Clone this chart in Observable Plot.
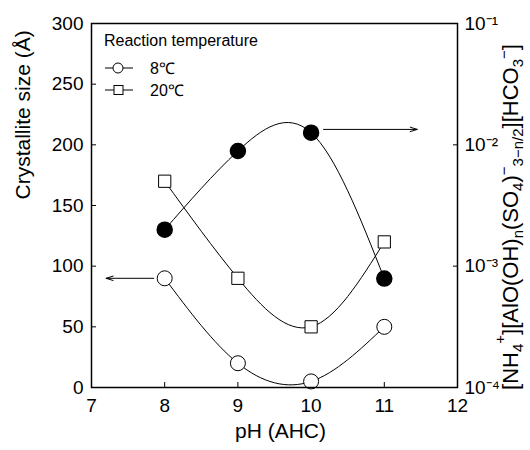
<!DOCTYPE html>
<html>
<head>
<meta charset="utf-8">
<script src="https://cdn.jsdelivr.net/npm/d3@7"></script>
<script src="https://cdn.jsdelivr.net/npm/@observablehq/plot@0.6"></script>
<style>
  html, body { margin: 0; padding: 0; background: white; }
  #chart { width: 530px; height: 450px; }
</style>
</head>
<body>
<div id="chart"></div>
<script>
// ---- data ----
const pH = [8, 9, 10, 11];
const size8C = [90, 20, 5, 50];          // Crystallite size (Å), 8 ℃ (open circles)
const size20C = [170, 90, 50, 120];      // Crystallite size (Å), 20 ℃ (open squares)
const ionProduct = [2.0e-3, 8.9e-3, 1.26e-2, 7.9e-4]; // right log axis (filled circles)
const xTicks = [7, 8, 9, 10, 11, 12];
const leftTicks = [0, 50, 100, 150, 200, 250, 300];
const rightTicks = [1e-4, 1e-3, 1e-2, 1e-1];
const legendTitle = "Reaction temperature";
const seriesNames = ["8℃", "20℃"];

// right log axis (1e-4 .. 1e-1) mapped onto left scale (0 .. 300)
const toLeft = v => (Math.log10(v) + 4) * 100;

const s8 = pH.map((x, i) => ({x, y: size8C[i]}));
const s20 = pH.map((x, i) => ({x, y: size20C[i]}));
const sP = pH.map((x, i) => ({x, y: toLeft(ionProduct[i])}));
const arrows = [
  {x1: 7.85, x2: 7.2, y1: 90, y2: 90},
  {x1: 10.17, x2: 11.45, y1: toLeft(1.34e-2), y2: toLeft(1.34e-2)}
];
const supMap = {"-": "⁻", "0": "⁰", "1": "¹", "2": "²", "3": "³", "4": "⁴"};
const sup = s => String(s).split("").map(c => supMap[c] || c).join("");

const font = "'Liberation Sans', Arial, Helvetica, sans-serif";

const plot = Plot.plot({
  width: 530,
  height: 450,
  marginLeft: 91,
  marginRight: 73,
  marginTop: 23,
  marginBottom: 63,
  x: {domain: [7, 12]},
  y: {domain: [0, 300]},
  style: {fontFamily: font, fontSize: "19px", color: "black", background: "white"},
  marks: [
    Plot.axisX({ticks: xTicks, tickSize: -5, tickPadding: 16, label: null, tickFormat: d => String(d)}),
    Plot.axisY({anchor: "left", ticks: leftTicks, tickSize: -5, tickPadding: 13, label: null}),
    Plot.axisY({anchor: "right", ticks: rightTicks.map(toLeft), tickSize: -5, tickPadding: 12, label: null,
      tickFormat: d => "10" + sup(Math.round(d / 100 - 4))}),
    Plot.line(s8, {x: "x", y: "y", curve: "natural", stroke: "black", strokeWidth: 1}),
    Plot.line(s20, {x: "x", y: "y", curve: "natural", stroke: "black", strokeWidth: 1}),
    Plot.line(sP, {x: "x", y: "y", curve: "natural", stroke: "black", strokeWidth: 1}),
    Plot.arrow(arrows, {x1: "x1", y1: "y1", x2: "x2", y2: "y2", stroke: "black", strokeWidth: 1, headLength: 11, headAngle: 35}),
    Plot.dot(s8, {x: "x", y: "y", r: 7.5, symbol: "circle", fill: "white", stroke: "black", strokeWidth: 1}),
    Plot.dot(s20, {x: "x", y: "y", r: 6.9, symbol: "square", fill: "white", stroke: "black", strokeWidth: 1}),
    Plot.dot(sP, {x: "x", y: "y", r: 7.5, symbol: "circle", fill: "black", stroke: "black"}),
    Plot.text(["pH (AHC)"], {frameAnchor: "bottom", dx: 6, dy: 50, fontSize: 21}),
    Plot.text(["Crystallite size (Å)"], {frameAnchor: "left", rotate: -90, dx: -68, dy: -6, fontSize: 21}),
    Plot.frame({stroke: "black", strokeWidth: 1.5})
  ]
});
document.getElementById("chart").appendChild(plot);

// ---- legend (inside frame, top-left) ----
const svg = d3.select(plot);
const lg = svg.append("g").attr("font-family", font).attr("fill", "black").attr("text-anchor", "start");
lg.append("text").attr("x", 104).attr("y", 46).attr("font-size", 16).text(legendTitle);
const rows = [{y: 68, sym: "circle"}, {y: 90, sym: "square"}];
rows.forEach((r, i) => {
  lg.append("line").attr("x1", 105).attr("x2", 133).attr("y1", r.y).attr("y2", r.y)
    .attr("stroke", "black").attr("stroke-width", 1);
  if (r.sym === "circle") {
    lg.append("circle").attr("cx", 118).attr("cy", r.y).attr("r", 5)
      .attr("fill", "white").attr("stroke", "black");
  } else {
    lg.append("rect").attr("x", 114).attr("y", r.y - 4.5).attr("width", 9).attr("height", 9)
      .attr("fill", "white").attr("stroke", "black");
  }
  lg.append("text").attr("x", 150).attr("y", r.y + 6).attr("font-size", 16).text(seriesNames[i]);
});

// ---- right axis label with sub/superscripts ----
const rt = svg.append("text")
  .attr("font-family", font).attr("font-size", 22).attr("fill", "black")
  .attr("text-anchor", "middle")
  .attr("transform", "translate(518,217) rotate(-90)");
const parts = [
  ["[NH", 0], ["4", 5], ["+", -13], ["][AlO(OH)", 0], ["n", 5], ["(SO", 0], ["4", 5], [")", 0],
  ["−", -9], ["3−n/2", 5], ["][HCO", 0], ["3", 5], ["−", -9], ["]", 0]
];
let cur = 0;
parts.forEach(([t, shift]) => {
  const ts = rt.append("tspan").text(t).attr("dy", shift - cur);
  if (shift !== 0) ts.attr("font-size", 15);
  cur = shift;
});
</script>
</body>
</html>
